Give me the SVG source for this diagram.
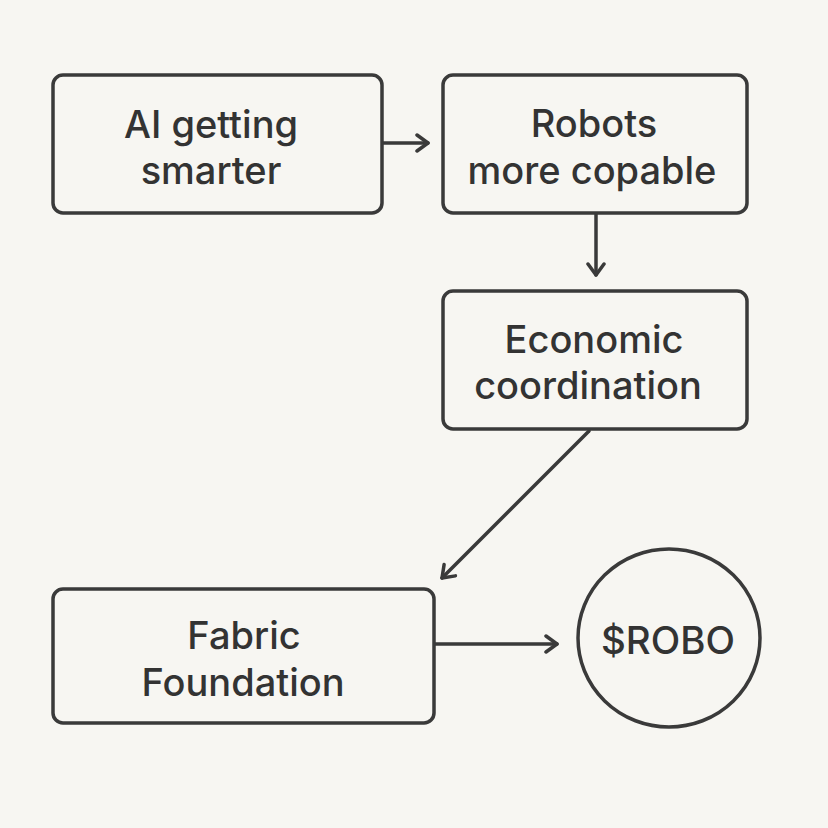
<svg xmlns="http://www.w3.org/2000/svg" width="828" height="828" viewBox="0 0 828 828">
<defs>
<style>
.box{fill:none;stroke:#3a3a3a;stroke-width:3.5}
.lbl{font-family:Inter,"Liberation Sans",sans-serif;font-size:38px;font-weight:500;fill:#333;text-anchor:middle}
.edge{fill:none;stroke:#3a3a3a;stroke-width:3.5;stroke-linecap:round}
</style>
<marker id="ah" viewBox="0 0 20 20" refX="17" refY="10" markerWidth="20" markerHeight="20" markerUnits="userSpaceOnUse" orient="auto">
<path d="M6,2 L17,10 L6,18" fill="none" stroke="#3a3a3a" stroke-width="3.5" stroke-linecap="round" stroke-linejoin="round"/>
</marker>
</defs>
<rect width="828" height="828" fill="#f7f6f2"/>
<g id="connectors">
<line class="edge" x1="383" y1="143" x2="428" y2="143" marker-end="url(#ah)"/>
<line class="edge" x1="596" y1="214" x2="596" y2="275" marker-end="url(#ah)"/>
<line class="edge" x1="589" y1="431" x2="442" y2="578" marker-end="url(#ah)"/>
<line class="edge" x1="435" y1="644" x2="557" y2="644" marker-end="url(#ah)"/>
</g>
<g id="n1">
<rect class="box" x="53" y="75" width="329" height="138" rx="10"/>
<text class="lbl" x="211" y="138">AI getting</text>
<text class="lbl" x="211" y="184">smarter</text>
</g>
<g id="n2">
<rect class="box" x="443" y="75" width="304" height="138" rx="10"/>
<text class="lbl" x="594" y="137">Robots</text>
<text class="lbl" x="592" y="184">more copable</text>
</g>
<g id="n3">
<rect class="box" x="443" y="291" width="304" height="138" rx="10"/>
<text class="lbl" x="594" y="353">Economic</text>
<text class="lbl" x="588" y="399">coordination</text>
</g>
<g id="n4">
<rect class="box" x="53" y="589" width="381" height="134" rx="10"/>
<text class="lbl" x="244" y="649">Fabric</text>
<text class="lbl" x="243" y="696">Foundation</text>
</g>
<g id="n5">
<ellipse class="box" cx="669" cy="638" rx="91" ry="89"/>
<text class="lbl" x="668" y="654" textLength="134" lengthAdjust="spacingAndGlyphs">$ROBO</text>
</g>
</svg>
